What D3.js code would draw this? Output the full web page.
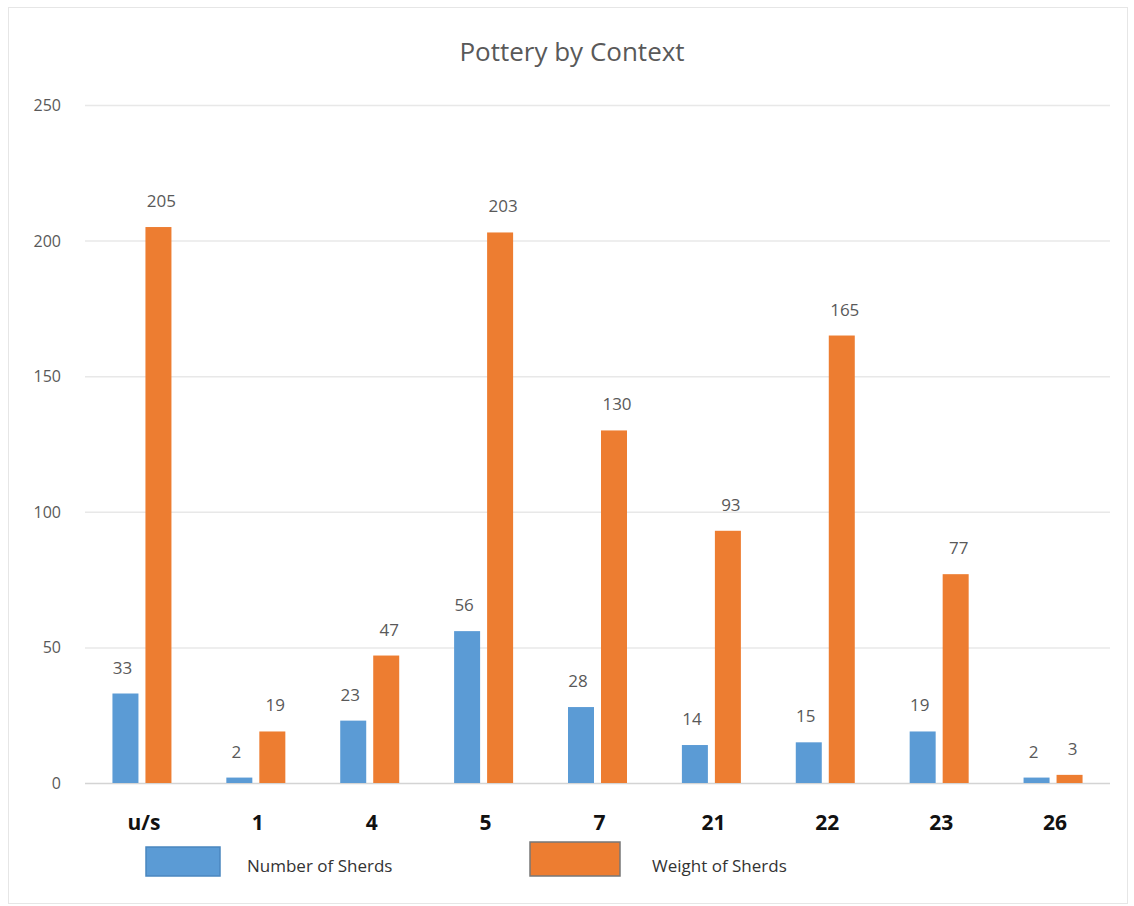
<!DOCTYPE html>
<html>
<head>
<meta charset="utf-8">
<script src="https://cdn.jsdelivr.net/npm/d3@7"></script>
<style>
  body { margin: 0; background: #fff; }
  svg { font-family: "Open Sans", "Liberation Sans", sans-serif; }
</style>
</head>
<body>
<div id="chart"></div>
<script>
// chart data
var contexts = ["u/s", "1", "4", "5", "7", "21", "22", "23", "26"];
var numberOfSherds = [33, 2, 23, 56, 28, 14, 15, 19, 2];
var weightOfSherds = [205, 19, 47, 203, 130, 93, 165, 77, 3];
var yTicks = [0, 50, 100, 150, 200, 250];
var seriesNames = ["Number of Sherds", "Weight of Sherds"];

var width = 1134, height = 906;
var margin = {top: 105, right: 24, bottom: 123, left: 85};

var svg = d3.select("#chart").append("svg")
    .attr("width", width)
    .attr("height", height);

// outer frame
svg.append("rect")
    .attr("x", 8.5).attr("y", 7.5)
    .attr("width", 1119).attr("height", 896)
    .attr("fill", "#fff")
    .attr("stroke", "#e6e6e6");

svg.append("text")
    .attr("x", 572).attr("y", 61)
    .attr("text-anchor", "middle")
    .attr("font-size", 26)
    .attr("fill", "#595959")
    .text("Pottery by Context");

var x = d3.scaleBand()
    .domain(contexts)
    .range([margin.left, width - margin.right])
    .paddingInner(0)
    .paddingOuter(0);

var y = d3.scaleLinear()
    .domain([0, 250])
    .range([height - margin.bottom, margin.top]);

// gridlines
svg.append("g").selectAll("line")
    .data(yTicks)
    .enter().append("line")
    .attr("x1", margin.left).attr("x2", width - margin.right)
    .attr("y1", function (d) { return y(d) + 0.5; })
    .attr("y2", function (d) { return y(d) + 0.5; })
    .attr("stroke", function (d) { return d === 0 ? "#d4d4d4" : "#e8e8e8"; })
    .attr("stroke-width", 1.5);

// y axis labels
svg.append("g").selectAll("text")
    .data(yTicks)
    .enter().append("text")
    .attr("x", 61)
    .attr("y", function (d) { return y(d) + 6; })
    .attr("text-anchor", "end")
    .attr("font-size", 16)
    .attr("fill", "#595959")
    .text(function (d) { return d; });

var barW = 26, gap = 7;
var rows = contexts.map(function (c, i) {
    return {c: c, n: numberOfSherds[i], w: weightOfSherds[i]};
});

var groups = svg.append("g").selectAll("g")
    .data(rows)
    .enter().append("g")
    .attr("transform", function (d) { return "translate(" + (x(d.c) + x.bandwidth() / 2) + ",0)"; });

groups.append("rect")
    .attr("x", -barW - gap / 2)
    .attr("y", function (d) { return y(d.n); })
    .attr("width", barW)
    .attr("height", function (d) { return y(0) - y(d.n); })
    .attr("fill", "#5b9bd5");

groups.append("rect")
    .attr("x", gap / 2)
    .attr("y", function (d) { return y(d.w); })
    .attr("width", barW)
    .attr("height", function (d) { return y(0) - y(d.w); })
    .attr("fill", "#ed7d31");

groups.append("text")
    .attr("x", -barW / 2 - gap / 2 - 3)
    .attr("y", function (d) { return y(d.n) - 20; })
    .attr("text-anchor", "middle")
    .attr("font-size", 17)
    .attr("fill", "#595959")
    .text(function (d) { return d.n; });

groups.append("text")
    .attr("x", barW / 2 + gap / 2 + 3)
    .attr("y", function (d) { return y(d.w) - 20; })
    .attr("text-anchor", "middle")
    .attr("font-size", 17)
    .attr("fill", "#595959")
    .text(function (d) { return d.w; });

// category labels
svg.append("g").selectAll("text")
    .data(contexts)
    .enter().append("text")
    .attr("x", function (d) { return x(d) + x.bandwidth() / 2 + 2; })
    .attr("y", 830)
    .attr("text-anchor", "middle")
    .attr("font-size", 21)
    .attr("font-weight", "bold")
    .attr("fill", "#111")
    .text(function (d) { return d; });

// legend
var legend = [
    {name: seriesNames[0], color: "#5b9bd5", rx: 146, ry: 847, rw: 74, rh: 29, tx: 247, stroke: "#4a86bf"},
    {name: seriesNames[1], color: "#ed7d31", rx: 530, ry: 842, rw: 90, rh: 34, tx: 652, stroke: "#777"}
];
var lg = svg.append("g").selectAll("g")
    .data(legend)
    .enter().append("g");
lg.append("rect")
    .attr("x", function (d) { return d.rx; })
    .attr("y", function (d) { return d.ry; })
    .attr("width", function (d) { return d.rw; })
    .attr("height", function (d) { return d.rh; })
    .attr("fill", function (d) { return d.color; })
    .attr("stroke", function (d) { return d.stroke; })
    .attr("stroke-width", 1.5);
lg.append("text")
    .attr("x", function (d) { return d.tx; })
    .attr("y", 872)
    .attr("font-size", 17)
    .attr("fill", "#333")
    .text(function (d) { return d.name; });
</script>
</body>
</html>
